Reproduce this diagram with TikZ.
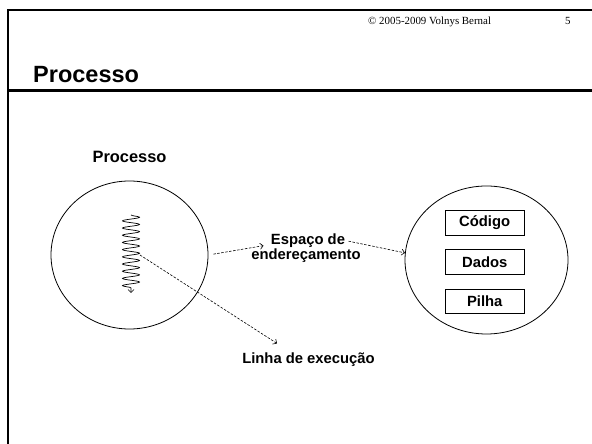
\documentclass[tikz,border=0pt]{standalone}
\usepackage{fontspec}
\setmainfont{Liberation Serif}
\setsansfont{Liberation Sans}
\usetikzlibrary{arrows.meta,decorations.pathmorphing,shapes.geometric}

\begin{document}
\begin{tikzpicture}[x=1pt,y=1pt,
    txt/.style={font=\sffamily\bfseries\fontsize{14.8}{17}\selectfont},
    region/.style={draw,ellipse,line width=0.8pt,inner sep=0pt},
    segbox/.style={draw,line width=0.8pt,minimum width=79pt,minimum height=24.5pt,inner sep=0pt},
    link/.style={line width=0.6pt,dash pattern=on 2.5pt off 1.5pt,-{Straight Barb[length=3pt,width=6pt]}}]
    \useasboundingbox (0,0) rectangle (592,444);
    % moldura
    \draw[line width=2pt] (8,0) -- (8,434) -- (592,434);
    \draw[line width=2.5pt] (8,353.5) -- (592,353.5);
    \node[anchor=base west,inner sep=0pt,font=\fontsize{10.9}{13}\selectfont] (copy) at (368,419.5) {© 2005-2009 Volnys Bernal};
    \node[anchor=base west,inner sep=0pt,font=\fontsize{10.9}{13}\selectfont] (page) at (565,419.5) {5};
    \node[anchor=base west,inner sep=0pt,font=\sffamily\bfseries\fontsize{23.5}{28}\selectfont] (title) at (33,361.7) {Processo};

    % processo
    \node[txt,anchor=base,font=\sffamily\bfseries\fontsize{16.4}{19}\selectfont] (proclbl) at (129.5,281.3) {Processo};
    \node[region,minimum width=157pt,minimum height=148pt] (proc) at (129.5,189) {};
    \coordinate (thrtop) at (131,229);
    \coordinate (thrbot) at (131,151);
    \coordinate (thr) at (140,189);
    \draw[line width=0.7pt,decorate,decoration={snake,amplitude=8.5pt,segment length=7.2pt,post length=5pt},-{Straight Barb[length=3pt,width=6pt]}] (thrtop) -- (thrbot);

    % espaco de enderecamento
    \node[txt,anchor=base] (esp1) at (308,199) {Espaço de};
    \node[txt,anchor=base] (esp2) at (306,184) {endereçamento};
    \node[region,minimum width=163pt,minimum height=148pt] (mem) at (486.5,184) {};
    \foreach \name/\part/\ypos in {code/Código/221, data/Dados/182, stack/Pilha/142.7} {
        \node[segbox,txt] (\name) at (484.7,\ypos) {\part};
    }

    % linha de execucao
    \node[txt,anchor=base] (linha) at (308.5,80.7) {Linha de execução};

    \draw[link,shorten <=5pt,shorten >=4pt] (proc.east) -- (esp1.base west);
    \draw[link] (esp1.east) -- (mem.175);
    \draw[link] (thr) -- ([xshift=-31.5pt,yshift=5.6pt]linha.north);
\end{tikzpicture}
\end{document}
